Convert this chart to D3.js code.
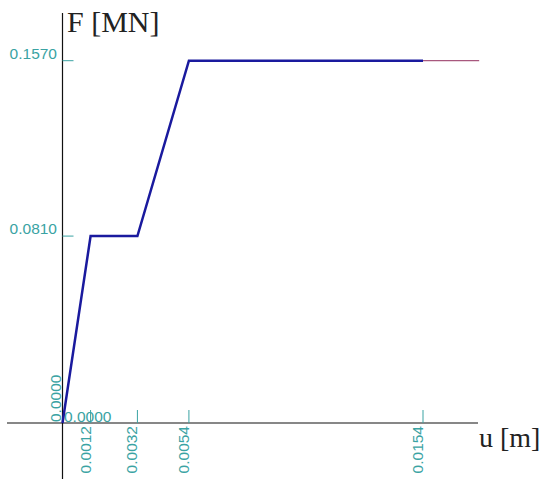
<!DOCTYPE html>
<html>
<head>
<meta charset="utf-8">
<script src="https://cdn.jsdelivr.net/npm/d3@7"></script>
<style>
  html, body { margin: 0; padding: 0; background: #fff; }
  svg { display: block; }
</style>
</head>
<body>
<svg id="chart" width="546" height="479"></svg>
<script>
// Force–displacement curve (u in metres, F in meganewtons)
const uPoints = [0, 0.0012, 0.0032, 0.0054, 0.0154];
const fPoints = [0, 0.0810, 0.0810, 0.1570, 0.1570];
// continuation of the plateau beyond the last point
const uTail = [0.0154, 0.0178];
const fTail = [0.1570, 0.1570];

const xTicks = [0.0012, 0.0032, 0.0054, 0.0154];
const xTickLabels = ["0.0012", "0.0032", "0.0054", "0.0154"];
const yTicks = [0.0810, 0.1570];
const yTickLabels = ["0.0810", "0.1570"];
const zeroLabel = "0.0000";

const svg = d3.select("#chart");

const x = d3.scaleLinear().domain([0, 0.0154]).range([62.5, 423]);
const y = d3.scaleLinear().domain([0, 0.157]).range([423, 60.7]);

const teal = "#3aa3a3";
const labelFont = "'Liberation Sans', Arial, sans-serif";
const titleFont = "'Liberation Serif', 'Times New Roman', serif";
const labelSize = 15.5;

// axes lines
const x0 = x(0), y0 = y(0);
svg.append("line").attr("x1", 7).attr("x2", 478).attr("y1", y0).attr("y2", y0)
  .attr("stroke", "#111").attr("stroke-width", 1.2);
svg.append("line").attr("x1", x0).attr("x2", x0).attr("y1", 13).attr("y2", 479)
  .attr("stroke", "#111").attr("stroke-width", 1.2);

// x ticks and rotated labels
const gx = svg.append("g");
xTicks.forEach((t, i) => {
  const px = x(t);
  gx.append("line").attr("x1", px).attr("x2", px).attr("y1", y0).attr("y2", y0 - 13)
    .attr("stroke", teal).attr("stroke-width", 1);
  gx.append("text")
    .attr("transform", `translate(${px},426) rotate(-90)`)
    .attr("text-anchor", "end")
    .attr("font-family", labelFont).attr("font-size", labelSize)
    .attr("fill", teal)
    .text(xTickLabels[i]);
});

// y ticks and labels
const gy = svg.append("g");
yTicks.forEach((t, i) => {
  const py = y(t);
  gy.append("line").attr("x1", x0).attr("x2", x0 + 11).attr("y1", py).attr("y2", py)
    .attr("stroke", teal).attr("stroke-width", 1);
  gy.append("text")
    .attr("x", 57).attr("y", py - 2)
    .attr("text-anchor", "end")
    .attr("font-family", labelFont).attr("font-size", labelSize)
    .attr("fill", teal)
    .text(yTickLabels[i]);
});

// origin labels
svg.append("text")
  .attr("x", x0 + 1.5).attr("y", y0 - 1)
  .attr("font-family", labelFont).attr("font-size", labelSize)
  .attr("fill", teal).text(zeroLabel);
svg.append("text")
  .attr("transform", `translate(${x0 - 2},${y0 - 1}) rotate(-90)`)
  .attr("text-anchor", "start")
  .attr("font-family", labelFont).attr("font-size", labelSize)
  .attr("fill", teal).text(zeroLabel);

// curve
const line = d3.line().x(d => x(d[0])).y(d => y(d[1]));
svg.append("path")
  .datum(uTail.map((u, i) => [u, fTail[i]]))
  .attr("d", line)
  .attr("fill", "none").attr("stroke", "#a8587e").attr("stroke-width", 1.3);
svg.append("path")
  .datum(uPoints.map((u, i) => [u, fPoints[i]]))
  .attr("d", line)
  .attr("fill", "none").attr("stroke", "#1a1a9e").attr("stroke-width", 2.5)
  .attr("stroke-linejoin", "miter");

// axis titles
svg.append("text").attr("x", 67).attr("y", 32)
  .attr("font-family", titleFont).attr("font-size", 30).attr("fill", "#222")
  .text("F [MN]");
svg.append("text").attr("x", 479).attr("y", 447)
  .attr("font-family", titleFont).attr("font-size", 28).attr("fill", "#222")
  .text("u [m]");
</script>
</body>
</html>
